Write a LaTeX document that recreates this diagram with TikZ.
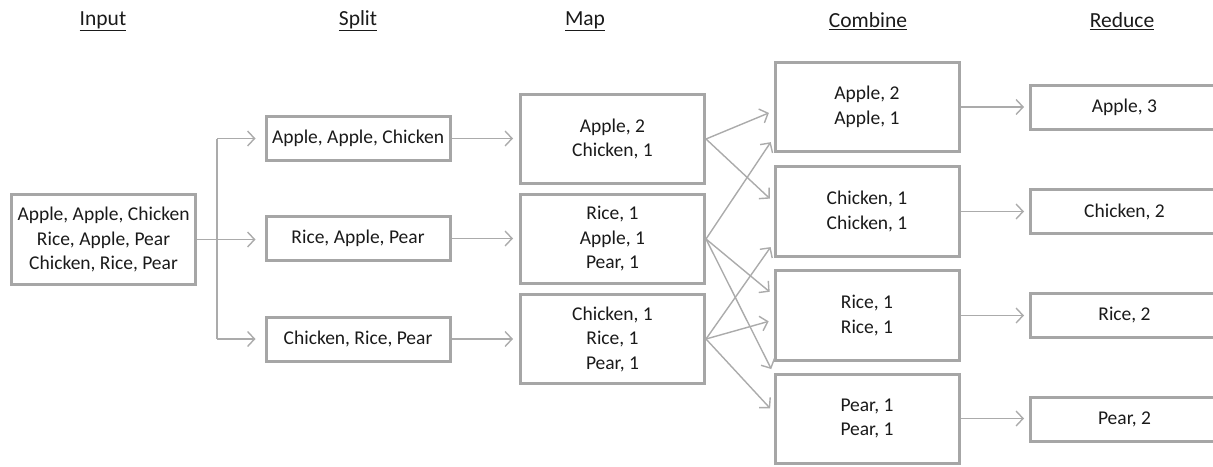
\documentclass[tikz,border=0pt]{standalone}
\usepackage{fontspec}
\setmainfont{Carlito}
\usetikzlibrary{arrows.meta}
\definecolor{boxgray}{HTML}{A6A6A6}
\definecolor{linegray}{HTML}{ABABAB}
\definecolor{ink}{HTML}{1A1A1A}
\begin{document}
\begin{tikzpicture}[x=1pt,y=-1pt,
  every node/.style={text=ink, font=\fontsize{19.5}{24.5}\selectfont, inner sep=0pt, align=center},
  box/.style={draw=boxgray, line width=3pt, rectangle},
  bigbox/.style={box, minimum width=184pt, minimum height=89pt},
  smallbox/.style={box, minimum width=184pt, minimum height=44pt},
  header/.style={font=\fontsize{21.5}{26}\selectfont},
  flow/.style={draw=linegray, line width=1.4pt, -{Straight Barb[length=7pt,width=15pt,line width=1.4pt]}},
  plain/.style={draw=linegray, line width=1.4pt}
]
\useasboundingbox (0,0) rectangle (1213,466);

% column headings
\node[header] (hin)  at (103,21)  {\underline{Input}};
\node[header] (hsp)  at (358,21)  {\underline{Split}};
\node[header] (hmap) at (585,21)  {\underline{Map}};
\node[header] (hcom) at (868,21)  {\underline{Combine}};
\node[header] (hred) at (1122,21) {\underline{Reduce}};

% input
\node[box, minimum width=184pt, minimum height=90pt] (in) at (103.5,239.5)
  {Apple, Apple, Chicken\\Rice, Apple, Pear\\Chicken, Rice, Pear};

% split
\node[smallbox] (s1) at (358,138.5) {Apple, Apple, Chicken};
\node[smallbox] (s2) at (358,238.5) {Rice, Apple, Pear};
\node[smallbox] (s3) at (358,339)   {Chicken, Rice, Pear};

% map
\node[bigbox] (m1) at (612.5,139) {Apple, 2\\Chicken, 1};
\node[bigbox] (m2) at (612.5,239) {Rice, 1\\Apple, 1\\Pear, 1};
\node[bigbox] (m3) at (612.5,339) {Chicken, 1\\Rice, 1\\Pear, 1};

% combine
\node[bigbox] (c1) at (867,107)   {Apple, 2\\Apple, 1};
\node[bigbox, minimum height=90pt] (c2) at (867,211.5) {Chicken, 1\\Chicken, 1};
\node[bigbox, minimum height=90pt] (c3) at (867,315.5) {Rice, 1\\Rice, 1};
\node[bigbox] (c4) at (867,418.5) {Pear, 1\\Pear, 1};

% reduce (boxes run past the right border)
\begin{scope}[every node/.append style={minimum width=188pt}]
\node[smallbox, minimum width=188pt] (r1) at (1124.5,107.5) {Apple, 3};
\node[smallbox, minimum width=188pt] (r2) at (1124.5,211.5) {Chicken, 2};
\node[smallbox, minimum width=188pt] (r3) at (1124.5,315.5) {Rice, 2};
\node[smallbox, minimum width=188pt] (r4) at (1124.5,419.5) {Pear, 2};
\end{scope}

% input fans out to the three splits
\coordinate (j) at (217,239.5);
\draw[plain] (j |- s1.west) -- (j |- s3.west);
\draw[flow, shorten >=9pt] (in.east) -- (in.east -| s2.west);
\draw[flow, shorten >=9pt] (j |- s1.west) -- (s1.west);
\draw[flow, shorten >=9pt] (j |- s3.west) -- (s3.west);

% split to map
\draw[flow, shorten >=6pt] (s1.east) -- (s1.east -| m1.west);
\draw[flow, shorten >=6pt] (s2.east) -- (s2.east -| m2.west);
\draw[flow, shorten >=6pt] (s3.east) -- (s3.east -| m3.west);

% map to combine (shuffle)
\begin{scope}[shorten >=5pt]
\draw[flow] (m1.east) -- ([yshift=-4pt]c1.west);
\draw[flow] (m1.east) -- ([yshift=9.5pt]c2.west);
\draw[flow] (m2.east) -- ([yshift=-31pt]c1.west);
\draw[flow] (m2.east) -- ([yshift=20.5pt]c3.west);
\draw[flow] (m2.east) -- ([yshift=45pt]c4.west);
\draw[flow] (m3.east) -- ([yshift=-31.5pt]c2.west);
\draw[flow] (m3.east) -- ([yshift=-4.5pt]c3.west);
\draw[flow] (m3.east) -- ([yshift=6.5pt]c4.west);
\end{scope}

% combine to reduce
\draw[flow, shorten >=5pt] (c1.east) -- (c1.east -| r1.west);
\draw[flow, shorten >=5pt] (c2.east) -- (c2.east -| r2.west);
\draw[flow, shorten >=5pt] (c3.east) -- (c3.east -| r3.west);
\draw[flow, shorten >=5pt] (c4.east) -- (c4.east -| r4.west);
\end{tikzpicture}
\end{document}
